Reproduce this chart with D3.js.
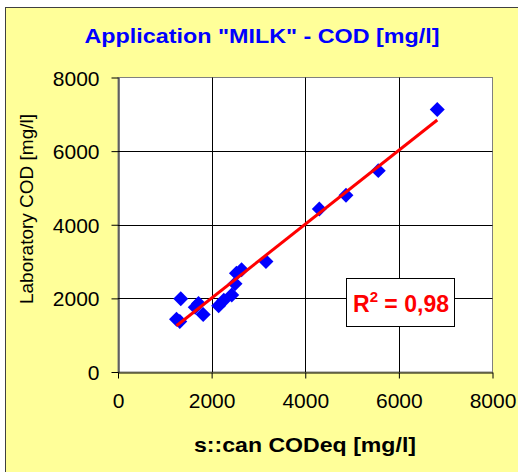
<!DOCTYPE html>
<html>
<head>
<meta charset="utf-8">
<script src="https://cdn.jsdelivr.net/npm/d3@7"></script>
<style>
body { margin: 0; background: #fff; }
svg { display: block; font-family: "Liberation Sans", Arial, sans-serif; }
</style>
</head>
<body>
<svg id="chart" width="518" height="472"></svg>
<script>
// values
var scan_cod = [1250, 1320, 1340, 1650, 1720, 1820, 2150, 2260, 2430, 2500, 2530, 2640, 3160, 4300, 4870, 5560, 6820];
var lab_cod  = [1430, 1370, 1990, 1760, 1860, 1560, 1800, 1950, 2090, 2400, 2680, 2780, 3000, 4430, 4800, 5470, 7130];
var x_ticks = [0, 2000, 4000, 6000, 8000];
var y_ticks = [0, 2000, 4000, 6000, 8000];
var title = 'Application "MILK" - COD [mg/l]';
var x_title = "s::can CODeq [mg/l]";
var y_title = "Laboratory COD [mg/l]";
var r2_label = "0,98";

var data = scan_cod.map(function(d, i) { return {x: d, y: lab_cod[i]}; });

var svg = d3.select("#chart");

var x = d3.scaleLinear().domain([0, 8000]).range([118, 492.5]);
var y = d3.scaleLinear().domain([0, 8000]).range([372, 77.5]);

// outer chart frame
svg.append("rect")
    .attr("x", 5.5).attr("y", 7.5)
    .attr("width", 530).attr("height", 480)
    .attr("fill", "#ffff99")
    .attr("stroke", "#404040");

// plot area
svg.append("rect")
    .attr("x", x(0)).attr("y", y(8000))
    .attr("width", x(8000) - x(0)).attr("height", y(0) - y(8000))
    .attr("fill", "#fff")
    .attr("stroke", "#808080");

// grid
svg.selectAll(".vgrid").data(x_ticks.slice(1, -1)).enter().append("line")
    .attr("class", "vgrid")
    .attr("x1", function(d) { return Math.round(x(d)) + 0.5; })
    .attr("x2", function(d) { return Math.round(x(d)) + 0.5; })
    .attr("y1", y(0)).attr("y2", y(8000))
    .attr("stroke", "#000");

svg.selectAll(".hgrid").data(y_ticks.slice(1, -1)).enter().append("line")
    .attr("class", "hgrid")
    .attr("y1", function(d) { return Math.round(y(d)) + 0.5; })
    .attr("y2", function(d) { return Math.round(y(d)) + 0.5; })
    .attr("x1", x(0)).attr("x2", x(8000))
    .attr("stroke", "#000");

// axes
var fmt = d3.format("d");
var xAxis = svg.append("g")
    .attr("transform", "translate(0," + (Math.round(y(0)) + 0.5) + ")")
    .call(d3.axisBottom(x).tickValues(x_ticks).tickFormat(fmt).tickSize(6).tickSizeOuter(0).tickPadding(15));
var yAxis = svg.append("g")
    .attr("transform", "translate(" + (Math.round(x(0)) + 0.5) + ",0)")
    .call(d3.axisLeft(y).tickValues(y_ticks).tickFormat(fmt).tickSize(7).tickSizeOuter(0).tickPadding(12));

[xAxis, yAxis].forEach(function(a) {
    a.select(".domain").attr("stroke", "#000");
    a.selectAll(".tick line").attr("stroke", "#000");
    a.selectAll(".tick text")
        .attr("font-family", "Liberation Sans, Arial, sans-serif")
        .attr("font-size", 21)
        .attr("fill", "#000");
});
yAxis.selectAll(".tick text").attr("dy", "0.36em");

// trend line (least squares through the points)
var mx = d3.mean(data, function(d) { return d.x; });
var my = d3.mean(data, function(d) { return d.y; });
var sxy = d3.sum(data, function(d) { return (d.x - mx) * (d.y - my); });
var sxx = d3.sum(data, function(d) { return (d.x - mx) * (d.x - mx); });
var slope = sxy / sxx;
var icpt = my - slope * mx;
var xr = d3.extent(data, function(d) { return d.x; });

// points
svg.selectAll(".pt").data(data).enter().append("path")
    .attr("class", "pt")
    .attr("d", d3.symbol().type(d3.symbolSquare).size(112))
    .attr("transform", function(d) { return "translate(" + x(d.x) + "," + y(d.y) + ") rotate(45)"; })
    .attr("fill", "#0000ff");

svg.append("line")
    .attr("x1", x(xr[0])).attr("y1", y(slope * xr[0] + icpt))
    .attr("x2", x(xr[1])).attr("y2", y(slope * xr[1] + icpt))
    .attr("stroke", "#ff0000")
    .attr("stroke-width", 3);

// R² box
svg.append("rect")
    .attr("x", 346.5).attr("y", 278.5)
    .attr("width", 108).attr("height", 48)
    .attr("fill", "#fff")
    .attr("stroke", "#000");
var r2 = svg.append("text")
    .attr("x", 401).attr("y", 312)
    .attr("text-anchor", "middle")
    .attr("font-size", 23)
    .attr("font-weight", "bold")
    .attr("fill", "#ff0000");
r2.append("tspan").text("R");
r2.append("tspan").attr("font-size", 15).attr("dy", -10).text("2");
r2.append("tspan").attr("dy", 10).text(" = " + r2_label);

// titles
svg.append("text")
    .attr("x", 262).attr("y", 43)
    .attr("text-anchor", "middle")
    .attr("font-size", 21)
    .attr("font-weight", "bold")
    .attr("fill", "#0000ff")
    .attr("textLength", 355)
    .attr("lengthAdjust", "spacingAndGlyphs")
    .text(title);

svg.append("text")
    .attr("x", 305).attr("y", 452)
    .attr("text-anchor", "middle")
    .attr("font-size", 21)
    .attr("font-weight", "bold")
    .attr("fill", "#000")
    .attr("textLength", 222)
    .attr("lengthAdjust", "spacingAndGlyphs")
    .text(x_title);

svg.append("text")
    .attr("transform", "translate(33,209) rotate(-90)")
    .attr("text-anchor", "middle")
    .attr("font-size", 19)
    .attr("fill", "#000")
    .text(y_title);
</script>
</body>
</html>
